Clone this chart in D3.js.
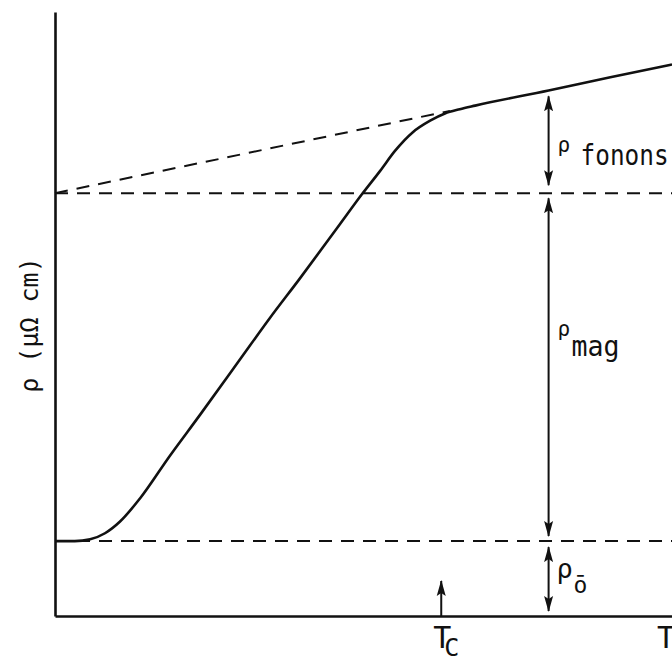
<!DOCTYPE html>
<html>
<head>
<meta charset="utf-8">
<script src="https://cdn.jsdelivr.net/npm/d3@7/dist/d3.min.js"></script>
<style>
  html, body { margin: 0; padding: 0; background: #fff; }
  svg { display: block; }
  text { font-family: "DejaVu Sans Mono", monospace; fill: #111; }
</style>
</head>
<body>
<svg id="chart" width="672" height="657"></svg>
<script>
// Resistivity versus temperature for a ferromagnetic metal (schematic units)
const curveT   = [0, 3.2, 5.7, 8.1, 10.5, 13.8, 18.6, 23.5, 30.0, 34.8, 39.7, 46.2, 49.8, 52.7, 55.1, 58.0, 60.8, 63.2, 65.6, 68.1, 80, 90, 100];
const curveRho = [12.4, 12.4, 12.7, 13.7, 15.6, 19.5, 26.5, 33.3, 42.5, 49.3, 55.9, 64.9, 69.9, 73.7, 77.0, 80.1, 82.0, 83.2, 83.9, 84.5, 87.0, 89.2, 91.3];

const rhoResidual = 12.4;        // ρ0 level
const rhoSaturated = 70;         // ρ0 + ρmag, intercept of phonon line
const phononSlope = 0.213;       // slope of the high-temperature phonon line
const phononDashEndT = 64;       // dashed extrapolation back to T = 0
const tCurie = 62.6;             // T_C
const tArrows = 80;              // where the ρ brackets are drawn

const svg = d3.select("#chart");
const x = d3.scaleLinear().domain([0, 100]).range([55, 672]);
const y = d3.scaleLinear().domain([0, 100]).range([616, 12]);

const ink = "#111";

// arrowhead marker
const defs = svg.append("defs");
defs.append("marker")
  .attr("id", "head")
  .attr("markerUnits", "userSpaceOnUse")
  .attr("viewBox", "0 -6 16 12")
  .attr("refX", 15).attr("refY", 0)
  .attr("markerWidth", 16).attr("markerHeight", 12)
  .attr("orient", "auto-start-reverse")
  .append("path")
  .attr("d", "M0,-4.5L16,0L0,4.5L3,0Z")
  .attr("fill", ink);

// axes (no ticks)
const yAxisScale = y.copy().domain([-1, 100]);
svg.append("g")
  .attr("transform", `translate(${x(0)},0)`)
  .call(d3.axisLeft(yAxisScale).tickValues([]).tickSizeOuter(0))
  .select(".domain").attr("stroke", ink).attr("stroke-width", 2.6);

svg.append("g")
  .attr("transform", `translate(0,${y(0)})`)
  .call(d3.axisBottom(x).tickValues([]).tickSizeOuter(0))
  .select(".domain").attr("stroke", ink).attr("stroke-width", 2.6);

// dashed reference lines
const dash = "13,9";
[rhoResidual, rhoSaturated].forEach(level => {
  svg.append("line")
    .attr("x1", x(0)).attr("x2", x(100))
    .attr("y1", y(level)).attr("y2", y(level))
    .attr("stroke", ink).attr("stroke-width", 2)
    .attr("stroke-dasharray", dash);
});

svg.append("line")
  .attr("x1", x(0)).attr("y1", y(rhoSaturated))
  .attr("x2", x(phononDashEndT)).attr("y2", y(rhoSaturated + phononSlope * phononDashEndT))
  .attr("stroke", ink).attr("stroke-width", 2)
  .attr("stroke-dasharray", dash);

// measured curve
const pts = curveT.map((t, i) => [t, curveRho[i]]);
svg.append("path")
  .datum(pts)
  .attr("fill", "none")
  .attr("stroke", ink)
  .attr("stroke-width", 2.6)
  .attr("stroke-linejoin", "round")
  .attr("d", d3.line().x(d => x(d[0])).y(d => y(d[1])).curve(d3.curveMonotoneX));

// double arrows marking ρ contributions
function doubleArrow(t, lo, hi, gTop, gBot) {
  svg.append("line")
    .attr("x1", x(t)).attr("x2", x(t))
    .attr("y1", y(hi) + gTop).attr("y2", y(lo) - gBot)
    .attr("stroke", ink).attr("stroke-width", 2)
    .attr("marker-start", "url(#head)")
    .attr("marker-end", "url(#head)");
}
doubleArrow(tArrows, rhoSaturated, rhoSaturated + phononSlope * tArrows, 6, 8);
doubleArrow(tArrows, rhoResidual, rhoSaturated, 5, 5);
doubleArrow(tArrows, 0, rhoResidual, 6, 5);

// T_C arrow
svg.append("line")
  .attr("x1", x(tCurie)).attr("x2", x(tCurie))
  .attr("y1", y(0)).attr("y2", y(5.8))
  .attr("stroke", ink).attr("stroke-width", 2)
  .attr("marker-end", "url(#head)");

// labels
function label(px, py, txt, size, len) {
  const t = svg.append("text").attr("x", px).attr("y", py)
    .style("font-size", size + "px").text(txt);
  if (len) t.attr("textLength", len).attr("lengthAdjust", "spacingAndGlyphs");
  return t;
}
const lx = x(tArrows) + 10;
label(lx - 1, 152, "ρ", 21);
label(lx + 22, 165, "fonons", 29, 88);
label(lx - 1, 336, "ρ", 21);
label(lx + 13, 356, "mag", 29, 48);
label(lx - 2, 578, "ρ", 27);
label(lx + 15, 593, "ō", 23);

label(x(tCurie) - 8, 648, "T", 30);
label(x(tCurie) + 3, 656, "C", 25);
label(657, 648, "T", 30);

svg.append("text")
  .attr("transform", "translate(38,325) rotate(-90)")
  .attr("text-anchor", "middle")
  .style("font-size", "25px")
  .text("ρ (μΩ cm)");
</script>
</body>
</html>
